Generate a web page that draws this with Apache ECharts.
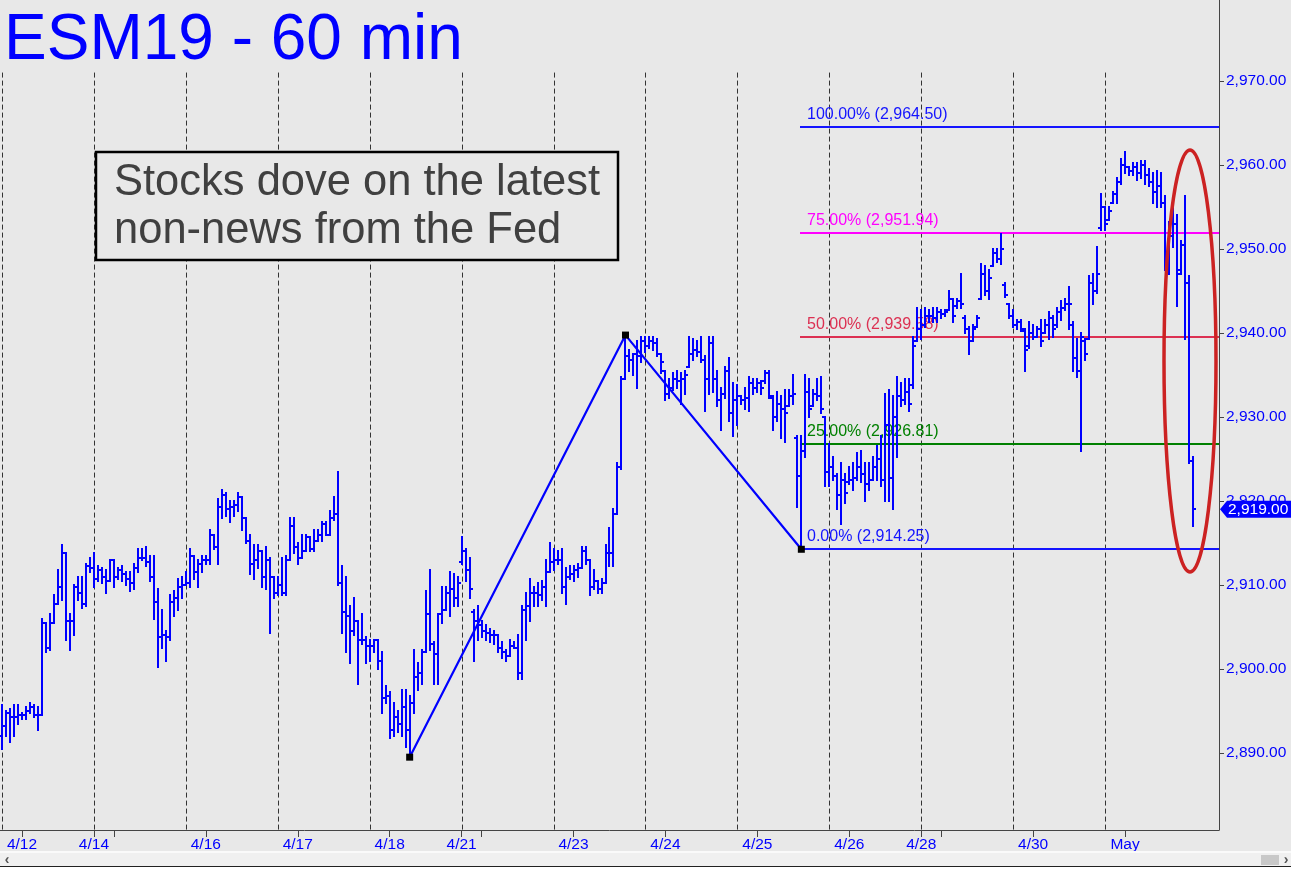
<!DOCTYPE html>
<html><head><meta charset="utf-8">
<script src="https://cdn.jsdelivr.net/npm/echarts/dist/echarts.min.js"></script>
<style>html,body{margin:0;padding:0;background:#e8e8e8;overflow:hidden}#c{width:1291px;height:871px}</style>
</head><body><div id="c"></div>
<script>
// ---- data (ESM19 60-min bars) ----
const opens = [2892,2893.25,2894.75,2894.25,2894.25,2894.5,2894.5,2895,2895.5,2894.5,2894.5,2905.5,2902.5,2905.5,2907.75,2909.75,2913.75,2905.75,2905.75,2909.75,2909,2907.75,2912.25,2912,2910.75,2911.75,2911,2910.5,2913,2911,2911.75,2911.25,2910.75,2910.25,2912,2913.25,2913.25,2912.75,2911,2908,2903.75,2904,2903.75,2908,2908.5,2909.75,2910,2910.25,2913.5,2911.5,2912.5,2913,2913,2916,2914.5,2919.25,2920.75,2919,2919.25,2919.5,2920.5,2918,2915.25,2912.5,2913,2914,2911,2913,2911,2909,2910,2909,2913,2917,2914.5,2913.25,2914,2915.75,2914.25,2915.25,2916,2917.25,2916,2918,2918.5,2910.25,2906.75,2906.25,2904.5,2905.75,2903.5,2903.5,2902.75,2902.75,2903.5,2901,2896.5,2896.75,2892.75,2894.25,2893.5,2895.5,2892.75,2896,2899,2899.5,2902,2906.5,2903,2901.75,2906.5,2907,2909,2909.5,2908.5,2912.75,2914,2911.75,2906.75,2905.75,2905.25,2904.5,2904.25,2904,2904,2902.5,2902,2901.5,2902.75,2902.5,2899.5,2907,2907.5,2909,2909,2908.75,2909.75,2911.5,2912.75,2913,2913,2909.75,2911,2911.25,2911.75,2912,2914,2913,2909.75,2910.5,2909.5,2910.25,2913.75,2913.75,2918.5,2924,2934.5,2937.25,2936.75,2937.5,2937.25,2939,2938.5,2939,2938.75,2937.5,2935.5,2932.75,2933.5,2934.5,2934.25,2934.5,2936,2937.5,2938,2937.75,2936.75,2934.5,2938.75,2934.5,2932,2932.75,2935.5,2930.5,2932,2932.5,2932,2932.25,2934,2933.5,2934,2934.25,2935.25,2932.25,2930,2931.5,2931,2931.25,2932.5,2927.5,2923,2926,2933,2931.25,2932.75,2932.5,2930,2923.5,2924,2923,2920.75,2922.5,2922.25,2922.5,2922.75,2924,2923.25,2922,2922.5,2924,2925,2922.5,2929,2922.75,2930,2932.5,2932,2933,2933.75,2939,2940.5,2941,2942,2942,2941.75,2942.5,2942.25,2942.75,2944,2943.25,2943.75,2941.75,2940.5,2939,2940.75,2944,2947,2945,2948,2949.5,2948.75,2945.75,2943.5,2942,2941,2941.25,2940.25,2938.5,2940,2939.5,2940.5,2940,2941,2941.75,2941,2942.5,2943,2943.5,2941,2937,2935.5,2939,2939.25,2946,2945,2952.5,2955,2953.5,2955.5,2956.5,2958,2960,2959.75,2959.25,2959.75,2959,2960,2958.75,2958,2956.75,2957.5,2955.5,2949,2951.5,2953,2947.5,2950.5,2946,2924.75];
const highs = [2895.75,2895,2895.25,2895.75,2895.75,2894.75,2895.5,2896,2895.75,2895.5,2906,2905.5,2906.5,2908.75,2911.75,2914.75,2913.75,2906.5,2910,2911,2911,2912.5,2913.25,2913.75,2912.25,2912,2911.75,2913,2913,2912,2912.25,2911.5,2911.5,2912.5,2914.25,2914.25,2914.5,2913.5,2913.5,2909.5,2907,2904.5,2908.75,2909.25,2910.75,2911,2911.5,2914.25,2913.5,2913,2913.5,2913.5,2916.5,2916,2920.25,2921.25,2921,2920,2920,2921,2920.5,2918,2916,2914.75,2914.75,2914,2914.5,2913.25,2911,2911,2913.25,2913.5,2918,2918,2915,2916,2916,2915.75,2916.5,2916.5,2917.5,2917.5,2918.75,2920.5,2923.5,2912.25,2911,2907.5,2908.5,2905.75,2906.5,2903.75,2903.5,2903.5,2903.5,2902,2898,2897.25,2896,2895,2897.5,2897.5,2896.75,2902.25,2900.75,2902.25,2909.25,2911.75,2903.25,2906.5,2909.75,2909.75,2911.5,2911.25,2911,2915.75,2914.25,2913.25,2907,2907.5,2905.75,2905.25,2904.75,2904.5,2904,2903.25,2902.25,2903.5,2903.25,2904,2907.5,2909,2910.75,2909.75,2910.25,2910.5,2913,2915,2914.25,2914,2914.25,2912,2912.25,2912.25,2912.5,2914.5,2914.5,2913,2911.75,2910.5,2910.75,2914.75,2916.75,2919,2924.5,2934.75,2939.75,2938,2937.5,2939,2939.5,2939.5,2939.5,2939.5,2939.25,2937.5,2935.5,2934.5,2935.25,2935.5,2935.25,2935.5,2939.5,2939.25,2939,2939.5,2937.25,2939.5,2939.5,2935.5,2933.5,2936,2937,2934,2933.75,2932.5,2933.5,2934.75,2934.5,2934.5,2934.25,2935.5,2935.5,2932.5,2933,2932.5,2933.25,2933.25,2935,2927.75,2927.75,2935,2934.5,2933.25,2934.5,2934.75,2930,2926.75,2925.25,2923.25,2924.5,2923.25,2924,2924.5,2925.75,2926,2924.5,2924.5,2925.25,2926.5,2927.75,2932.75,2933.25,2932.5,2934.75,2934,2934.5,2934.5,2939.5,2943,2942.75,2943,2942.75,2943,2943,2942.75,2942.75,2945,2944,2944,2947,2942,2940.75,2941,2942,2948.25,2948,2947.5,2950,2950,2951.75,2946,2943.5,2942.75,2941.5,2941.5,2940.5,2941.25,2941,2940.75,2941.5,2941.5,2942.5,2942,2943,2943.75,2944,2945.5,2941.25,2939.25,2940,2939.25,2946.75,2947,2950.25,2956.5,2955,2955,2956.75,2958.5,2960.75,2961.5,2959.75,2960.25,2960.25,2960.5,2960.5,2959.5,2959,2959.25,2959,2956.25,2953.25,2955,2954,2951,2956.25,2946.75,2925.25];
const lows = [2890.5,2892,2891.25,2892,2893.5,2894,2894,2894.75,2894.25,2892.75,2894.5,2902,2902.25,2905.5,2907.75,2908.25,2903.5,2902.25,2904,2908.25,2907.25,2907.5,2911.5,2909.75,2910.5,2910.25,2909,2910.5,2909.75,2910.75,2910.5,2910,2909.25,2909.5,2911.5,2913,2912.25,2910.5,2906,2900.25,2902.5,2901,2903.5,2906.25,2907,2908.5,2910,2909.75,2910.75,2909.75,2911.5,2912.5,2912.5,2914.25,2912.5,2918,2918.25,2917.5,2918.25,2918.75,2916.5,2915,2911.25,2910.75,2912,2909.75,2909.5,2904.25,2908.5,2908.75,2908.75,2908.75,2913,2913.75,2912.5,2913.25,2914,2914,2914,2915.25,2915.25,2916,2916,2917.75,2910,2904.25,2902,2900.75,2904,2898.25,2903,2900.75,2901,2902,2900,2894.75,2896,2891.75,2892,2892.5,2892,2890.75,2889.5,2894.75,2897.5,2898.25,2902,2902.25,2898.25,2898.25,2905.5,2907,2906.25,2907.5,2907.5,2912.5,2910.5,2908.5,2901,2903.5,2903.75,2903.5,2903.25,2903,2902,2901.25,2901,2901.5,2902.5,2898.75,2898.75,2903.5,2905.75,2907.5,2907.5,2908.25,2907.5,2911.5,2911.75,2912.5,2909,2907.75,2910.75,2910.5,2911,2912,2912.5,2908.75,2909.5,2909,2909,2910.25,2912.25,2912.25,2918.5,2923.75,2934.5,2935.5,2935,2933.5,2936.5,2937.75,2938.25,2938,2937.25,2935.25,2932,2932.25,2933.25,2933.5,2931.5,2932.75,2936,2936.75,2937.25,2936.5,2930.75,2932.75,2933,2931.25,2928.5,2932.25,2929.5,2927.75,2929,2931.5,2931,2930.75,2932.75,2933,2932.75,2934,2932.25,2928.5,2929.5,2927.5,2927,2931.25,2931.5,2919.25,2914.25,2925.25,2930,2931.25,2932,2930.5,2921.75,2921.75,2922.5,2919,2917.25,2919.75,2922,2921.25,2922.5,2922.25,2920,2921.25,2922.5,2922.5,2921.75,2920,2920,2919,2925.25,2931.25,2931.5,2930.75,2933.5,2939,2939.25,2940.75,2941.25,2941.25,2941.25,2941.75,2942,2942.75,2941.25,2943,2943,2940,2937.5,2939,2940.75,2944,2944.5,2944,2948,2948.5,2948.25,2944.25,2941.75,2940.75,2940.5,2940.25,2935.5,2938.25,2939.25,2939.5,2938.5,2940,2939.25,2939.5,2940.75,2941.5,2942.75,2940.5,2935.5,2934.75,2926,2936.75,2939.25,2943.5,2944.75,2952.25,2952.25,2953.5,2955.5,2955.5,2957.75,2959,2958.75,2958.75,2958.25,2958.5,2957.75,2957.5,2955.5,2955,2955,2947.5,2947,2950.25,2943.25,2947,2939.25,2924.5,2917];
const closes = [2893.25,2894.75,2894.25,2894.25,2894.5,2894.5,2895,2895.5,2894.5,2894.5,2905.5,2902.5,2905.5,2907.75,2909.75,2913.75,2905.75,2905.75,2909.75,2909,2907.75,2912.25,2912,2910.75,2911.75,2911,2910.5,2913,2911,2911.75,2911.25,2910.75,2910.25,2912,2913.25,2913.25,2912.75,2911,2908,2903.75,2904,2903.75,2908,2908.5,2909.75,2910,2910.25,2913.5,2911.5,2912.5,2913,2913,2916,2914.5,2919.25,2920.75,2919,2919.25,2919.5,2920.5,2918,2915.25,2912.5,2913,2914,2911,2913,2911,2909,2910,2909,2913,2917,2914.5,2913.25,2914,2915.75,2914.25,2915.25,2916,2917.25,2916,2918,2918.5,2910.25,2906.75,2906.25,2904.5,2905.75,2903.5,2903.5,2902.75,2902.75,2903.5,2901,2896.5,2896.75,2892.75,2894.25,2893.5,2895.5,2892.75,2896,2899,2899.5,2902,2906.5,2903,2901.75,2906.5,2907,2909,2909.5,2908.5,2910.25,2914,2911.75,2909.5,2905.75,2905.25,2904.5,2904.25,2904,2904,2902.5,2902,2901.5,2902.75,2902.5,2899.5,2907,2907.5,2909,2909,2908.75,2909.75,2911.5,2912.75,2913,2913,2909.75,2911,2911.25,2911.75,2912,2914,2913,2909.75,2910.5,2909.5,2910.25,2913.75,2913.75,2918.5,2924,2934.5,2937.25,2936.75,2937.5,2937.25,2939,2938.5,2939,2938.75,2937.5,2936.5,2932.75,2933.5,2934.5,2934.25,2934.5,2935,2937.5,2938,2937.75,2936.75,2934.5,2938.75,2934.5,2932,2932.75,2935.5,2930.5,2932,2932.5,2932,2932.25,2934,2933.5,2934,2933.5,2935.25,2932.5,2930,2931.5,2931,2930.5,2932.5,2932.75,2923,2926,2933,2931,2932.75,2932.5,2931,2923.5,2924,2923,2920.75,2922.5,2921,2922.5,2922.75,2924,2923.25,2922,2922.5,2924,2925,2922.5,2929,2922.75,2930,2932.5,2932,2933,2931.5,2938.5,2940.5,2941,2942,2942,2941.75,2942.5,2942.25,2942.5,2944,2942,2943.75,2943.5,2940.5,2939,2940.5,2941.75,2947,2945,2946.5,2949.5,2948.75,2950,2944.5,2942,2941,2941.25,2940.5,2938,2940,2939.5,2940.5,2939,2941,2941.75,2940.5,2942.5,2943,2943.5,2943.5,2937,2935.5,2939.5,2937.5,2946,2945,2947,2955,2953,2954.5,2956.5,2958,2960,2959.75,2959.25,2959.75,2959,2960,2958.75,2958,2956.75,2957.5,2955.5,2949,2951.5,2953,2947,2950.5,2946,2924.75,2919];

const dateTickIdx  = [5, 23, 51, 74, 97, 115, 143, 166, 189, 212, 230, 258, 281];
const dateTickText = ['4/12','4/14','4/16','4/17','4/18','4/21','4/23','4/24','4/25','4/26','4/28','4/30','May'];
const minorTickIdx = [28, 120, 235];
const gridLineIdx  = [0, 23, 46, 69, 92, 115, 138, 161, 184, 207, 230, 253, 276];
const gridLineTop  = 2971;

const swingIdx = [102, 156, 200];
const swingVal = [2889.50, 2939.75, 2914.25];

const fibStartIdx = 200;
const fibLevels = [2964.50, 2951.94, 2939.58, 2926.81, 2914.25];
const fibLabels = ['100.00% (2,964.50)', '75.00% (2,951.94)', '50.00% (2,939.58)', '25.00% (2,926.81)', '0.00% (2,914.25)'];
const fibColors = ['#1414ff', '#ff00ff', '#dc3052', '#008000', '#1414ff'];

const lastPrice = 2919.00;
const nCats = 305;
const yMin = 2880.83, yMax = 2979.64;

// ---- build ----
const cats = Array.from({length: nCats}, (_, i) => String(i));
const labelMap = {};
dateTickIdx.forEach((i, k) => labelMap[i] = dateTickText[k]);
const tickSet = new Set(dateTickIdx.concat(minorTickIdx));
const barData = opens.map((o, i) => [i, o, highs[i], lows[i], closes[i]]);
const BLUE = '#0000ff';
const FONT = 'Liberation Sans, Arial, sans-serif';

function fmtPrice(v) {
  const s = v.toFixed(2).split('.');
  return s[0].replace(/\B(?=(\d{3})+$)/g, ',') + '.' + s[1];
}

const chart = echarts.init(document.getElementById('c'), null, {renderer: 'canvas'});
const option = {
  backgroundColor: '#e8e8e8',
  animation: false,
  grid: {left: 0, right: 72, top: 0, bottom: 41, containLabel: false},
  xAxis: {
    type: 'category', data: cats, boundaryGap: true,
    axisLine: {show: true, lineStyle: {color: '#444', width: 1}},
    axisTick: {show: true, alignWithLabel: true, length: 7, interval: (idx) => tickSet.has(idx), lineStyle: {color: '#444'}},
    axisLabel: {interval: (idx) => labelMap[idx] !== undefined, formatter: (v, idx) => labelMap[idx] || '', color: BLUE, fontSize: 15.5, fontFamily: FONT, margin: 7},
    splitLine: {show: false}
  },
  yAxis: {
    type: 'value', position: 'right', min: yMin, max: yMax, splitNumber: 10, minInterval: 10, maxInterval: 10,
    axisLine: {show: true, lineStyle: {color: '#444', width: 1}},
    axisTick: {show: true, length: 5, lineStyle: {color: '#444'}},
    axisLabel: {color: BLUE, fontSize: 15.5, fontFamily: FONT, margin: 7, showMinLabel: false, showMaxLabel: false,
      formatter: (v) => Math.abs(v - Math.round(v / 10) * 10) < 0.01 ? fmtPrice(v) : ''},
    splitLine: {show: false}
  },
  series: [
    { // dashed vertical grid
      type: 'custom', z: 1, silent: true,
      data: gridLineIdx.map(i => [i, gridLineTop]), encode: {x: 0, y: 1},
      renderItem: (params, api) => {
        const p = api.coord([api.value(0), api.value(1)]);
        const cs = params.coordSys;
        const x = Math.round(p[0]) + 0.5;
        return {type: 'line', shape: {x1: x, y1: p[1], x2: x, y2: cs.y + cs.height},
          style: {stroke: '#333', lineWidth: 1, lineDash: [5, 3]}};
      }
    },
    { // fib levels
      type: 'custom', z: 2, silent: true,
      data: fibLevels.map((v, k) => [fibStartIdx, v, k]), encode: {x: 0, y: 1},
      renderItem: (params, api) => {
        const k = api.value(2);
        const p = api.coord([api.value(0), api.value(1)]);
        const cs = params.coordSys;
        const y = Math.round(p[1]);
        const x0 = Math.round(p[0]) - 1;
        return {type: 'group', children: [
          {type: 'rect', shape: {x: x0, y: y - 1, width: cs.x + cs.width - x0, height: 2}, style: {fill: fibColors[k]}},
          {type: 'text', x: x0 + 7, y: y - 12, style: {text: fibLabels[k], fill: fibColors[k], font: '16px ' + FONT, align: 'left', verticalAlign: 'middle'}}
        ]};
      }
    },
    { // OHLC bars
      type: 'custom', z: 3, silent: true,
      data: barData, encode: {x: 0, y: [1, 2, 3, 4]},
      renderItem: (params, api) => {
        const i = api.value(0);
        const yO = Math.round(api.coord([i, api.value(1)])[1]);
        const pH = api.coord([i, api.value(2)]);
        const yH = Math.round(pH[1]);
        const yL = Math.round(api.coord([i, api.value(3)])[1]);
        const yC = Math.round(api.coord([i, api.value(4)])[1]);
        const x = Math.round(pH[0]);
        const st = {fill: BLUE};
        return {type: 'group', children: [
          {type: 'rect', shape: {x: x - 1, y: yH - 1, width: 2, height: yL - yH + 2}, style: st},
          {type: 'rect', shape: {x: x - 3, y: yO - 1, width: 3, height: 2}, style: st},
          {type: 'rect', shape: {x: x, y: yC - 1, width: 3, height: 2}, style: st}
        ]};
      }
    },
    { // swing zigzag
      type: 'line', z: 5, silent: true,
      data: swingIdx.map((i, k) => [i, swingVal[k]]),
      symbol: 'rect', symbolSize: 7, showAllSymbol: true,
      itemStyle: {color: '#000'}, lineStyle: {color: BLUE, width: 2.2}
    }
  ]
};
chart.setOption(option);

const tag = chart.convertToPixel({xAxisIndex: 0, yAxisIndex: 0}, [opens.length - 1, lastPrice]);
const ty = tag[1];
chart.setOption({
  graphic: [
    {type: 'text', x: 4, y: 41, z: 10, style: {text: 'ESM19 - 60 min', fill: BLUE, font: '64px ' + FONT, align: 'left', verticalAlign: 'middle'}},
    {type: 'rect', z: 10, shape: {x: 96, y: 152, width: 522, height: 108}, style: {fill: '#e8e8e8', stroke: '#000', lineWidth: 2.5}},
    {type: 'text', x: 114, y: 183, z: 11, style: {text: 'Stocks dove on the latest', fill: '#404040', font: '43.5px ' + FONT, align: 'left', verticalAlign: 'middle'}},
    {type: 'text', x: 114, y: 231, z: 11, style: {text: 'non-news from the Fed', fill: '#404040', font: '43.5px ' + FONT, align: 'left', verticalAlign: 'middle'}},
    {type: 'ellipse', z: 12, shape: {cx: 1190, cy: 361, rx: 26, ry: 211}, style: {fill: null, stroke: '#cc2222', lineWidth: 3.5}},
    {type: 'polygon', z: 12, shape: {points: [[1220, ty], [1227, ty - 8.5], [1291, ty - 8.5], [1291, ty + 8.5], [1227, ty + 8.5]]}, style: {fill: BLUE}},
    {type: 'text', x: 1228, y: ty, z: 13, style: {text: fmtPrice(lastPrice), fill: '#fff', font: '15.5px ' + FONT, align: 'left', verticalAlign: 'middle'}},
    {type: 'rect', z: 10, shape: {x: 0, y: 851, width: 1291, height: 2}, style: {fill: '#fafafa'}},
    {type: 'rect', z: 10, shape: {x: 0, y: 853, width: 1291, height: 13}, style: {fill: '#f0f0f0'}},
    {type: 'rect', z: 11, shape: {x: 1261, y: 855, width: 18, height: 10}, style: {fill: '#c8c8c8'}},
    {type: 'text', x: 7, y: 860, z: 11, style: {text: '‹', fill: '#555', font: 'bold 14px ' + FONT, align: 'center', verticalAlign: 'middle'}},
    {type: 'text', x: 1286, y: 860, z: 11, style: {text: '›', fill: '#555', font: 'bold 14px ' + FONT, align: 'center', verticalAlign: 'middle'}},
    {type: 'rect', z: 10, shape: {x: 0, y: 866, width: 1291, height: 1}, style: {fill: '#222'}},
    {type: 'rect', z: 10, shape: {x: 0, y: 867, width: 1291, height: 4}, style: {fill: '#ffffff'}}
  ]
});
</script></body></html>
